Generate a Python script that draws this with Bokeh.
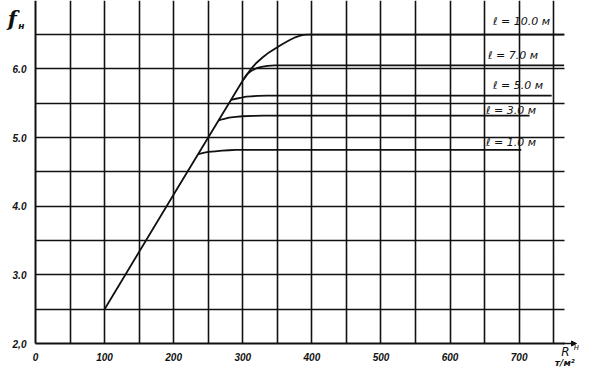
from bokeh.plotting import figure
from bokeh.models import (FixedTicker, Label, Arrow, NormalHead, ColumnDataSource,
                          LinearAxis, Grid)
from bokeh.embed import file_html
from bokeh.resources import INLINE
from bokeh.core.properties import value

# ---- data ----
x_ticks = [0, 100, 200, 300, 400, 500, 600, 700]
x_tick_labels = ["0", "100", "200", "300", "400", "500", "600", "700"]
y_ticks = [2, 3, 4, 5, 6]
y_tick_labels = ["2,0", "3.0", "4.0", "5.0", "6.0"]
x_grid = [50, 100, 150, 200, 250, 300, 350, 400, 450, 500, 550, 600, 650, 700, 750]
y_grid = [2.5, 3.0, 3.5, 4.0, 4.5, 5.0, 5.5, 6.0, 6.5]

# l = 10.0 m (includes the common straight rise)
l100_x = [100, 200, 300, 312, 320, 329, 338, 346, 357, 368, 376, 382, 388, 394, 765]
l100_y = [2.50, 4.17, 5.83, 6.00, 6.09, 6.17, 6.24, 6.29, 6.36, 6.42, 6.46, 6.48, 6.495, 6.50, 6.50]
# l = 7.0 m
l70_x = [300, 306, 312, 320, 327, 336, 346, 765]
l70_y = [5.83, 5.92, 5.97, 6.01, 6.03, 6.045, 6.05, 6.05]
# l = 5.0 m
l50_x = [283, 290, 298, 305, 312, 322, 335, 747]
l50_y = [5.55, 5.565, 5.58, 5.595, 5.60, 5.607, 5.61, 5.61]
# l = 3.0 m
l30_x = [265, 272, 280, 290, 300, 315, 330, 715]
l30_y = [5.25, 5.27, 5.29, 5.30, 5.31, 5.315, 5.32, 5.32]
# l = 1.0 m
l10_x = [236, 243, 250, 260, 270, 280, 290, 703]
l10_y = [4.76, 4.775, 4.79, 4.80, 4.81, 4.815, 4.82, 4.82]

curve_labels = ["ℓ = 10.0 м", "ℓ = 7.0 м", "ℓ = 5.0 м", "ℓ = 3.0 м", "ℓ = 1.0 м"]
curve_label_x = [662, 655, 662, 652, 652]
curve_label_y = [6.69, 6.19, 5.76, 5.39, 4.93]

X_AXIS_END = 765
Y_MIN, Y_TOP = 2.0, 7.0

INK = "#111111"

p = figure(width=600, height=370, x_range=(-50.6, 817.7), y_range=(1.607, 6.996),
           x_axis_type=None, y_axis_type=None,
           output_backend="svg", toolbar_location=None, title=None,
           min_border=0)
p.outline_line_color = None
p.background_fill_color = "white"
p.border_fill_color = "white"

# grids, limited to the chart area
xg = Grid(dimension=0, ticker=FixedTicker(ticks=x_grid), cross_bounds=(Y_MIN, Y_TOP))
yg = Grid(dimension=1, ticker=FixedTicker(ticks=y_grid), cross_bounds=(0, X_AXIS_END))
for g in (xg, yg):
    g.grid_line_color = INK
    g.grid_line_width = 1.6
    p.add_layout(g)

# axes placed at data positions
xaxis = LinearAxis(ticker=FixedTicker(ticks=x_ticks), fixed_location=Y_MIN,
                   bounds=(0, X_AXIS_END),
                   major_label_overrides={t: s for t, s in zip(x_ticks, x_tick_labels)})
yaxis = LinearAxis(ticker=FixedTicker(ticks=y_ticks), fixed_location=0,
                   bounds=(Y_MIN, Y_TOP),
                   major_label_overrides={t: s for t, s in zip(y_ticks, y_tick_labels)})
for ax in (xaxis, yaxis):
    ax.axis_line_color = INK
    ax.axis_line_width = 2
    ax.major_tick_line_color = None
    ax.minor_tick_line_color = None
    ax.major_label_text_font = "Liberation Sans"
    ax.major_label_text_font_style = "bold italic"
    ax.major_label_text_font_size = "10px"
    ax.major_label_text_color = INK
    ax.major_label_standoff = 3
p.add_layout(xaxis, "below")
p.add_layout(yaxis, "left")

# curves
for xs, ys in [(l100_x, l100_y), (l70_x, l70_y), (l50_x, l50_y),
               (l30_x, l30_y), (l10_x, l10_y)]:
    p.line(xs, ys, line_color=INK, line_width=1.8, line_join="round")

# curve labels
src = ColumnDataSource(dict(x=curve_label_x, y=curve_label_y, t=curve_labels))
p.text(x="x", y="y", text="t", source=src, text_font=value("DejaVu Sans"),
       text_font_style="italic", text_font_size="11px", text_color=INK,
       text_align="left", text_baseline="middle")

# axis titles
p.add_layout(Label(x=-40, y=6.735, text="f", text_font="DejaVu Serif",
                   text_font_style="bold italic", text_font_size="21px",
                   text_color=INK, text_baseline="middle", text_align="left"))
p.add_layout(Label(x=-25, y=6.63, text="н", text_font="DejaVu Sans",
                   text_font_style="bold italic", text_font_size="9px",
                   text_color=INK, text_baseline="middle", text_align="left"))
p.add_layout(Label(x=761, y=1.87, text="R", text_font="DejaVu Sans",
                   text_font_style="italic", text_font_size="12px",
                   text_color=INK, text_baseline="middle", text_align="left"))
p.add_layout(Label(x=779, y=1.94, text="н", text_font="DejaVu Sans",
                   text_font_style="italic", text_font_size="8px",
                   text_color=INK, text_baseline="middle", text_align="left"))
p.add_layout(Label(x=766, y=1.71, text="т/м²", text_font="DejaVu Sans",
                   text_font_style="bold italic", text_font_size="9px",
                   text_color=INK, text_baseline="middle", text_align="center"))
p.add_layout(Arrow(x_start=X_AXIS_END - 2, y_start=Y_MIN, x_end=X_AXIS_END + 18, y_end=Y_MIN,
                   line_color=INK, line_width=1.5,
                   end=NormalHead(size=5, fill_color=INK, line_color=INK)))

open("out.html", "w").write(file_html(p, INLINE))
